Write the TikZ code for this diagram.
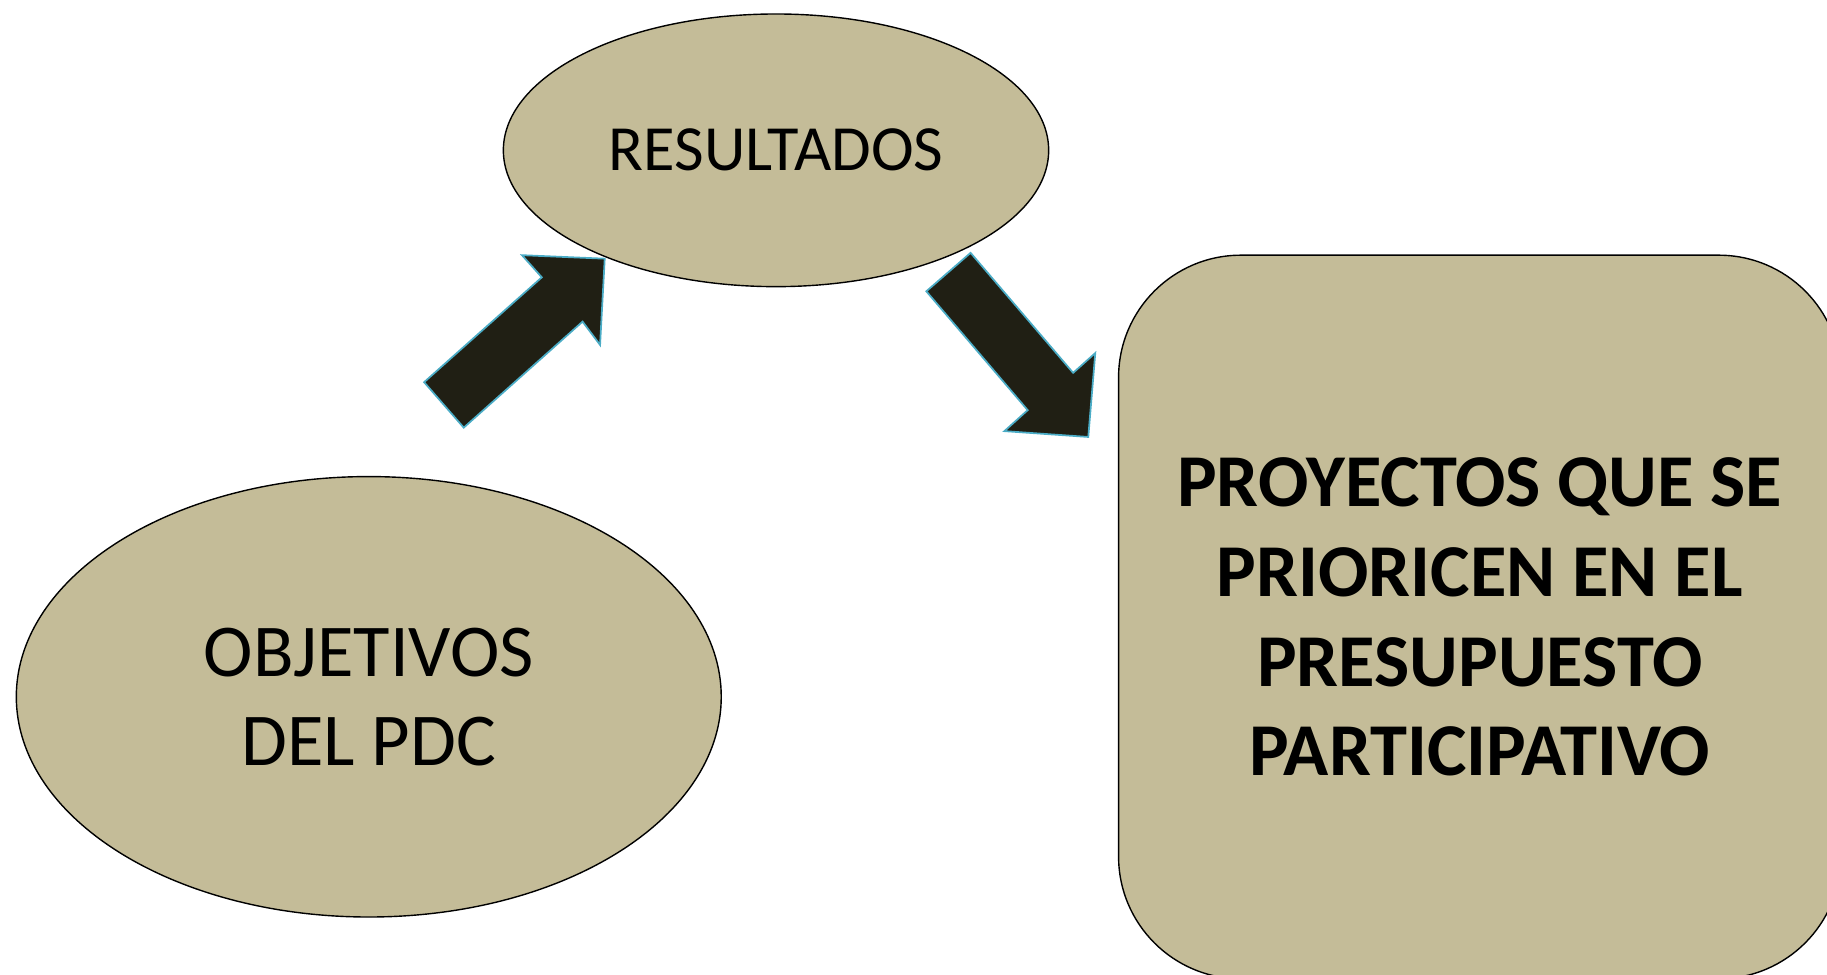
\documentclass[tikz,border=0pt]{standalone}
\usepackage{fontspec}
\setmainfont{Carlito}
\usetikzlibrary{shapes.geometric}
\definecolor{khaki}{RGB}{196,188,152}
\definecolor{arrowfill}{RGB}{32,31,20}
\definecolor{arrowedge}{RGB}{75,172,198}
\tikzset{
  oval/.style={ellipse, draw=black, line width=1.2pt, fill=khaki, inner sep=0pt, align=center},
  box/.style={rectangle, draw=black, line width=1.2pt, fill=khaki, rounded corners=105pt, inner sep=0pt, align=center},
  blockarrow/.style={fill=arrowfill, draw=arrowedge, line width=1.5pt, line join=miter}
}
\begin{document}
\begin{tikzpicture}[x=1pt,y=-1pt]
\useasboundingbox (0,0) rectangle (1568,836);
\clip (0,0) rectangle (1568,836);
\node[oval, minimum width=468pt, minimum height=234pt, font=\fontsize{55.3}{62}\selectfont] (res) at (666,129) {RESULTADOS};
\node[oval, minimum width=605pt, minimum height=378pt, font=\fontsize{64}{76}\selectfont] (obj) at (316.5,598) {OBJETIVOS\\DEL PDC};
\node[box, minimum width=620pt, minimum height=621pt, font=\bfseries\fontsize{64}{77}\selectfont] (proy) at (1270,529.5) {PROYECTOS QUE SE\\PRIORICEN EN EL\\PRESUPUESTO\\PARTICIPATIVO};
% block arrow from objetivos to resultados
\draw[blockarrow] (364,328) -- (398,367) -- (500,276) -- (515,296) -- (519,222) -- (448,219) -- (465,238) -- cycle;
% block arrow from resultados to proyectos
\draw[blockarrow] (795,250) -- (833,217) -- (921,320) -- (940,303) -- (934,375) -- (862,370) -- (882,352) -- cycle;
\end{tikzpicture}
\end{document}
